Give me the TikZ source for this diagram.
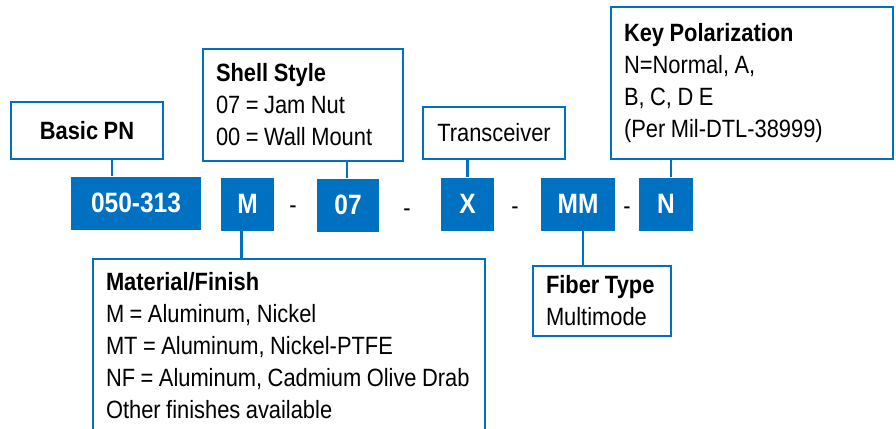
\documentclass[tikz,border=0pt]{standalone}
\usepackage{fontspec}
\setmainfont{Liberation Sans}[FakeStretch=0.875,WordSpace=0.8]
\usetikzlibrary{positioning}
\definecolor{pnblue}{RGB}{0,112,192}
\newcommand\lblfont{\fontsize{25}{32}\selectfont\spaceskip 5.5pt\relax}

\begin{document}
\begin{tikzpicture}[x=1pt,y=-1pt,
  code/.style={fill=pnblue,text=white,font=\fontsize{28}{32}\selectfont\bfseries,minimum height=53pt,inner sep=0pt},
  lbl/.style={draw=pnblue,line width=2.5pt,fill=white,font=\lblfont,align=flush left,inner xsep=13pt,inner ysep=0pt},
  conn/.style={draw=pnblue,line width=2.5pt},
  sep/.style={font=\fontsize{25}{32}\selectfont,inner sep=0pt}]
\clip (0,0) rectangle (896,428);
% part number fields
\node[code,minimum width=130pt] (pn) at (136,203) {050-313};
\node[code,minimum width=53pt] (m) at (247.5,204) {M};
\node[code,minimum width=62pt] (s07) at (348,205) {07};
\node[code,minimum width=53pt] (x) at (467.5,204) {X};
\node[code,minimum width=74pt] (mm) at (578,204) {MM};
\node[code,minimum width=54pt] (n) at (666,204) {N};
\node[sep] (d1) at (293,210) {-};
\node[sep] (d2) at (407,213) {-};
\node[sep] (d3) at (515,211) {-};
\node[sep] (d4) at (627,211) {-};
% labels
\node[lbl,minimum width=152pt,minimum height=57pt] (basic) at (87,130.5) {\textbf{Basic PN}};
\node[lbl,text width=174pt,minimum height=112pt] (shell) at (303,105) {\textbf{Shell Style}\\07 = Jam Nut\\00 = Wall Mount};
\node[lbl,minimum width=142pt,minimum height=52pt] (trx) at (494,133) {Transceiver};
\node[lbl,text width=256pt,minimum height=152pt] (key) at (752,83) {\textbf{Key Polarization}\\N=Normal, A,\\B, C, D E\\(Per Mil-DTL-38999)};
\node[lbl,text width=366pt,minimum height=174pt] (mat) at (289,346) {\textbf{Material/Finish}\\M = Aluminum, Nickel\\MT = Aluminum, Nickel-PTFE\\NF = Aluminum, Cadmium Olive Drab\\Other finishes available};
\node[lbl,text width=112pt,minimum height=70pt] (fib) at (602,301) {\textbf{Fiber Type}\\Multimode};
% connectors
\draw[conn] ([xshift=25pt]basic.south) -- ([xshift=25pt]basic.south |- pn.north);
\draw[conn] ([xshift=-1pt]s07.north) -- ([xshift=-1pt]s07.north |- shell.south);
\draw[conn] (x.north) -- (x.north |- trx.south);
\draw[conn] ([xshift=5pt]n.north) -- ([xshift=5pt]n.north |- key.south);
\draw[conn] ([xshift=-6pt]m.south) -- ([xshift=-6pt]m.south |- mat.north);
\draw[conn] ([xshift=5pt]mm.south) -- ([xshift=5pt]mm.south |- fib.north);
\end{tikzpicture}
\end{document}
